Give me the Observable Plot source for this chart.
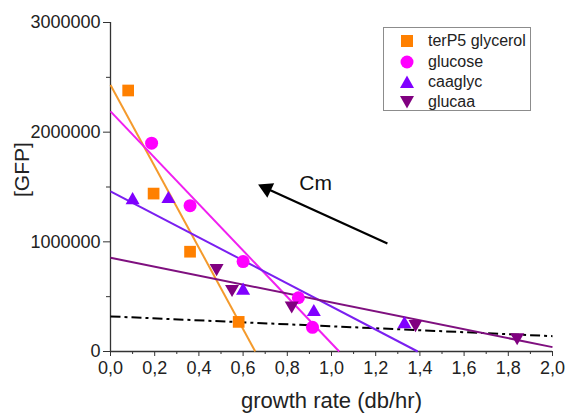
<!DOCTYPE html>
<html>
<head>
<meta charset="utf-8">
<script src="https://cdn.jsdelivr.net/npm/d3@7"></script>
<script src="https://cdn.jsdelivr.net/npm/@observablehq/plot@0.6"></script>
<style>
  body { margin: 0; background: white; font-family: "Liberation Sans", Arial, sans-serif; }
  #wrap { position: relative; width: 568px; height: 416px; }
  #legend { position: absolute; left: 383px; top: 27px; width: 148px; height: 84px; border: 1px solid #8c8c8c; background: white; box-sizing: border-box; }
  .row { position: absolute; left: 0; height: 20px; display: flex; align-items: center; font-size: 16px; color: #222; }
  .row svg { margin-left: 16px; margin-right: 14px; }
</style>
</head>
<body>
<div id="wrap"><div id="legend"></div></div>
<script>
// ---- data ----
const seriesNames = ["terP5 glycerol", "glucose", "caaglyc", "glucaa"];
const seriesColors = ["#ff8000", "#ff00ff", "#8000ff", "#800080"];
const lineColors = ["#f49a2c", "#f020f0", "#7a1ff0", "#7f107f"];

const terX = [0.08, 0.195, 0.36, 0.58];
const terY = [2380000, 1440000, 910000, 270000];
const gluX = [0.186, 0.36, 0.60, 0.85, 0.914];
const gluY = [1900000, 1330000, 820000, 490000, 220000];
const caaX = [0.10, 0.262, 0.60, 0.92, 1.33];
const caaY = [1380000, 1390000, 555000, 360000, 250000];
const gcaX = [0.48, 0.55, 0.82, 1.38, 1.84];
const gcaY = [760000, 570000, 420000, 250000, 130000];

// fitted lines (start/end points)
const fitX1 = [0, 0, 0, 0];
const fitY1 = [2430000, 2190000, 1460000, 855000];
const fitX2 = [0.655, 1.035, 1.39, 2.0];
const fitY2 = [0, 0, 0, 40000];
// black dash-dot reference line
const refX = [0, 2.0];
const refY = [320000, 140000];

// annotation arrow
const arrowFrom = [1.253, 985000];
const arrowTo = [0.706, 1486000];
const cmLabel = "Cm";
const cmPos = [0.928, 1532000];

const xMajor = [0, 0.2, 0.4, 0.6, 0.8, 1.0, 1.2, 1.4, 1.6, 1.8, 2.0];
const xMinor = [0.1, 0.3, 0.5, 0.7, 0.9, 1.1, 1.3, 1.5, 1.7, 1.9];
const yMajor = [0, 1000000, 2000000, 3000000];
const yMinor = [500000, 1500000, 2500000];

const xLabel = "growth rate (db/hr)";
const yLabel = "[GFP]";

// ---- build tables ----
const FONT = "'Liberation Sans', Arial, sans-serif";
const pts = (xs, ys) => xs.map((x, i) => ({x, y: ys[i]}));
const fits = seriesNames.map((s, i) => ({s, x1: fitX1[i], y1: fitY1[i], x2: fitX2[i], y2: fitY2[i], c: lineColors[i]}));

const chart = Plot.plot({
  width: 568,
  height: 416,
  marginLeft: 110,
  marginRight: 16,
  marginTop: 22,
  marginBottom: 65,
  x: {domain: [0, 2]},
  y: {domain: [0, 3000000]},
  style: {fontFamily: FONT, fontSize: "18px", color: "#222", background: "white", overflow: "visible"},
  marks: [
    Plot.axisX({ticks: xMinor, tickFormat: () => "", tickSize: 3, label: null, stroke: "#333"}),
    Plot.axisX({ticks: xMajor, tickFormat: d => d.toFixed(1).replace(".", ","), tickSize: 5, tickPadding: 5, label: null, fontSize: 18, fontFamily: FONT, stroke: "#333"}),
    Plot.axisY({ticks: yMinor, tickFormat: () => "", tickSize: 4, label: null, stroke: "#333"}),
    Plot.axisY({ticks: yMajor, tickFormat: d => String(d), tickSize: 7, tickPadding: 3, label: null, fontSize: 18, fontFamily: FONT, stroke: "#333"}),
    Plot.ruleX([0], {stroke: "#333", strokeWidth: 1.3}),
    Plot.ruleY([0], {stroke: "#333", strokeWidth: 1.3}),
    Plot.text([xLabel], {frameAnchor: "bottom", dy: 56, fontSize: 22, fontFamily: FONT, fill: "#222"}),
    Plot.text([yLabel], {frameAnchor: "left", rotate: -90, dx: -88, dy: 10, fontSize: 21, fontFamily: FONT, fill: "#222"}),
    // reference dash-dot
    Plot.link([{x1: refX[0], y1: refY[0], x2: refX[1], y2: refY[1]}], {x1: "x1", y1: "y1", x2: "x2", y2: "y2", stroke: "black", strokeWidth: 2, strokeDasharray: "10,4,3,4"}),
    // fits
    Plot.link(fits, {x1: "x1", y1: "y1", x2: "x2", y2: "y2", stroke: "c", strokeWidth: 2}),
    // points
    Plot.dot(pts(terX, terY), {x: "x", y: "y", symbol: "square", r: 6.6, fill: seriesColors[0]}),
    Plot.dot(pts(gluX, gluY), {x: "x", y: "y", symbol: "circle", r: 6.5, fill: seriesColors[1]}),
    Plot.dot(pts(caaX, caaY), {x: "x", y: "y", symbol: "triangle", r: 5.2, fill: seriesColors[2]}),
    Plot.dot(pts(gcaX, gcaY), {x: "x", y: "y", symbol: "triangle", r: 5.2, rotate: 180, fill: seriesColors[3]}),
    // arrow + label
    Plot.link([{x1: arrowFrom[0], y1: arrowFrom[1], x2: arrowTo[0], y2: arrowTo[1]}], {x1: "x1", y1: "y1", x2: "x2", y2: "y2", stroke: "black", strokeWidth: 2.2}),
    Plot.dot([{x: arrowTo[0], y: arrowTo[1]}], {x: "x", y: "y", symbol: "triangle", r: 6, rotate: -65, fill: "black"}),
    Plot.text([{x: cmPos[0], y: cmPos[1], t: cmLabel}], {x: "x", y: "y", text: "t", fontSize: 21, fontFamily: FONT, fill: "#111"})
  ]
});
document.getElementById("wrap").prepend(chart);

// legend
const symbolSvg = (i) => {
  const c = seriesColors[i];
  let shape;
  if (i === 0) shape = `<rect x="1" y="1" width="12" height="12" fill="${c}"/>`;
  else if (i === 1) shape = `<circle cx="7" cy="7" r="6.5" fill="${c}"/>`;
  else if (i === 2) shape = `<polygon points="7,0.5 14,13 0,13" fill="${c}"/>`;
  else shape = `<polygon points="0,1 14,1 7,13.5" fill="${c}"/>`;
  return `<svg width="14" height="14" viewBox="0 0 14 14">${shape}</svg>`;
};
const legend = document.getElementById("legend");
const rowTops = [3, 24, 44, 64];
seriesNames.forEach((name, i) => {
  const row = document.createElement("div");
  row.className = "row";
  row.style.top = rowTops[i] + "px";
  row.innerHTML = symbolSvg(i) + `<span>${name}</span>`;
  legend.appendChild(row);
});
</script>
</body>
</html>
